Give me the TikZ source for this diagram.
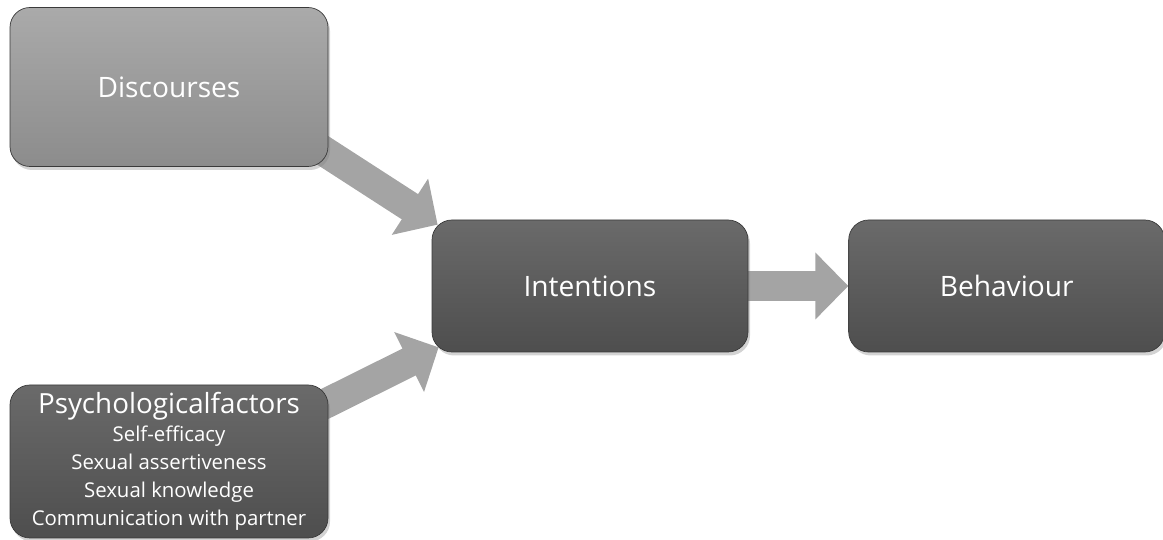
\documentclass[tikz,border=0pt]{standalone}
\usepackage{fontspec}
\setmainfont{Open Sans}
\usetikzlibrary{positioning}
\usetikzlibrary{arrows.meta}
\usetikzlibrary{backgrounds}
\usetikzlibrary{shadows}
\definecolor{lightgreytop}{HTML}{AAAAAA}
\definecolor{lightgreybot}{HTML}{8C8C8C}
\definecolor{darkgreytop}{HTML}{6A6A6A}
\definecolor{darkgreybot}{HTML}{4E4E4E}
\definecolor{boxedge}{HTML}{3A3A3A}
\definecolor{arrowgrey}{HTML}{A4A4A4}
\begin{document}
\begin{tikzpicture}[
 lightbox/.style={rectangle, rounded corners=0.4cm, draw=boxedge, thin, top color=lightgreytop, bottom color=lightgreybot, minimum width=6.36cm, minimum height=3.18cm, text=white, font=\fontsize{16}{19}\selectfont, drop shadow={shadow xshift=0.04cm, shadow yshift=-0.07cm, opacity=0.35}},
 darkbox/.style={rectangle, rounded corners=0.4cm, draw=boxedge, thin, top color=darkgreytop, bottom color=darkgreybot, minimum width=6.32cm, minimum height=2.64cm, text=white, font=\fontsize{16}{19}\selectfont, drop shadow={shadow xshift=0.04cm, shadow yshift=-0.07cm, opacity=0.35}},
 blockarrow/.style={draw=arrowgrey, line width=0.6cm, -{Triangle[length=0.66cm, width=1.3cm]}}
]
\useasboundingbox (0,0) rectangle (23.26,10.8);

% Boxes
\node[lightbox] (D) at (3.38,9.06) {Discourses};
\node[darkbox] (I) at (11.8,5.08) {Intentions};
\node[darkbox, right=2cm of I] (B) {Behaviour};
\node[darkbox, minimum width=6.36cm, minimum height=3.06cm, align=center,
 font=\fontsize{11.6}{16}\selectfont] (P) at (3.38,1.57)
 {{\fontsize{15.8}{18}\selectfont Psychologicalfactors}\\Self-efficacy\\Sexual assertiveness\\Sexual knowledge\\Communication with partner};

% Arrows (behind the boxes)
\begin{scope}[on background layer]
\draw[blockarrow] ([shift={(-0.3,0.45)}]D.south east) -- ([shift={(0.12,-0.1)}]I.north west);
\draw[blockarrow] ([shift={(-0.3,-0.5)}]P.north east) -- ([shift={(0.14,0.1)}]I.south west);
\draw[blockarrow] ([xshift=-0.1cm]I.east) -- (B.west);
\end{scope}
\end{tikzpicture}
\end{document}
